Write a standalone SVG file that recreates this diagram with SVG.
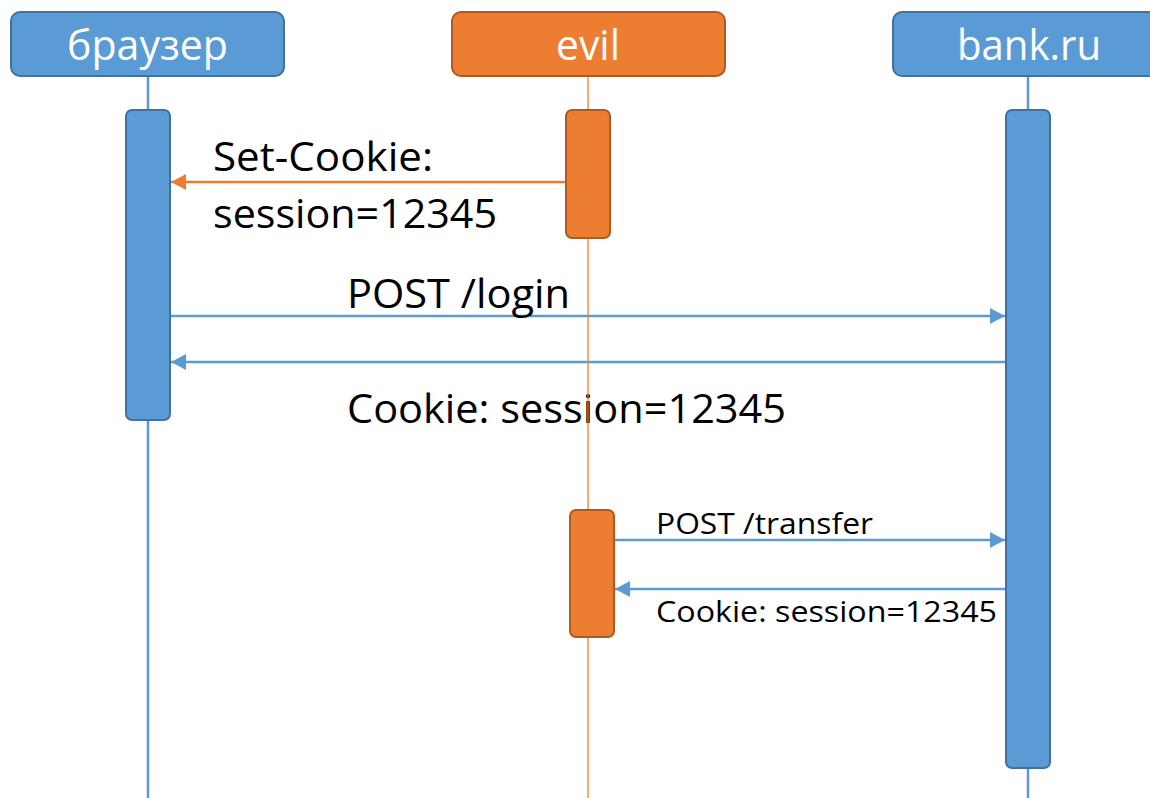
<svg xmlns="http://www.w3.org/2000/svg" width="1150" height="798" viewBox="0 0 1150 798">
<style>
.bg{fill:#ffffff}
.hb{fill:#5B9BD5;stroke:#41719C;stroke-width:2}
.ho{fill:#ED7D31;stroke:#AE5A21;stroke-width:2}
.ht{font-family:"Open Sans","Noto Sans",sans-serif;font-size:42px;fill:#ffffff;text-anchor:middle}
.lb{stroke:#5B9BD5;stroke-width:2.5;fill:none}
.lo{stroke:#ED7D31;stroke-width:1.3;fill:none}
.cb{stroke:#5B9BD5;stroke-width:2.5;fill:none}
.co{stroke:#ED7D31;stroke-width:2.5;fill:none}
.tl{font-family:"Open Sans","Noto Sans",sans-serif;font-size:41px;fill:#000000}
.ts{font-family:"Open Sans","Noto Sans",sans-serif;font-size:29px;fill:#000000}
</style>
<defs>
<marker id="ab" markerUnits="userSpaceOnUse" markerWidth="16" markerHeight="16" refX="15" refY="8" orient="auto">
<path d="M0,0 L15,8 L0,16 z" fill="#5B9BD5"/>
</marker>
<marker id="ao" markerUnits="userSpaceOnUse" markerWidth="16" markerHeight="16" refX="15" refY="8" orient="auto">
<path d="M0,0 L15,8 L0,16 z" fill="#ED7D31"/>
</marker>
</defs>
<rect class="bg" x="0" y="0" width="1150" height="798"/>

<g id="connectors">
<line class="co" x1="566" y1="182" x2="171" y2="182" marker-end="url(#ao)"/>
<text class="tl" x="213" y="171" textLength="220" lengthAdjust="spacingAndGlyphs">Set-Cookie:</text>
<text class="tl" x="213" y="228" textLength="284" lengthAdjust="spacingAndGlyphs">session=12345</text>
<line class="cb" x1="171" y1="316" x2="1005" y2="316" marker-end="url(#ab)"/>
<text class="tl" x="347" y="308" textLength="223" lengthAdjust="spacingAndGlyphs">POST /login</text>
<line class="cb" x1="1005" y1="362" x2="171" y2="362" marker-end="url(#ab)"/>
<text class="tl" x="347" y="423" textLength="439" lengthAdjust="spacingAndGlyphs">Cookie: session=12345</text>
<line class="cb" x1="614" y1="540" x2="1005" y2="540" marker-end="url(#ab)"/>
<text class="ts" x="656" y="534" textLength="217" lengthAdjust="spacingAndGlyphs">POST /transfer</text>
<line class="cb" x1="1005" y1="589" x2="615" y2="589" marker-end="url(#ab)"/>
<text class="ts" x="656" y="622" textLength="341" lengthAdjust="spacingAndGlyphs">Cookie: session=12345</text>
</g>

<g id="browser">
<line class="lb" x1="148" y1="77" x2="148" y2="798"/>
<rect class="hb" x="11" y="12" width="273" height="64" rx="9"/>
<text class="ht" x="147.5" y="60" textLength="161" lengthAdjust="spacingAndGlyphs">браузер</text>
<rect class="hb" x="126" y="110" width="44" height="310" rx="6"/>
</g>

<g id="evil">
<line class="lo" x1="588" y1="77" x2="588" y2="798"/>
<rect class="ho" x="452" y="12" width="273" height="64" rx="9"/>
<text class="ht" x="588" y="60" textLength="64" lengthAdjust="spacingAndGlyphs">evil</text>
<rect class="ho" x="566" y="110" width="44" height="128" rx="6"/>
<rect class="ho" x="570" y="510" width="44" height="127" rx="6"/>
</g>

<g id="bank">
<line class="lb" x1="1028" y1="77" x2="1028" y2="798"/>
<rect class="hb" x="893" y="12" width="270" height="64" rx="9"/>
<text class="ht" x="1029" y="60" textLength="144" lengthAdjust="spacingAndGlyphs">bank.ru</text>
<rect class="hb" x="1006" y="110" width="44" height="658" rx="6"/>
</g>
</svg>
